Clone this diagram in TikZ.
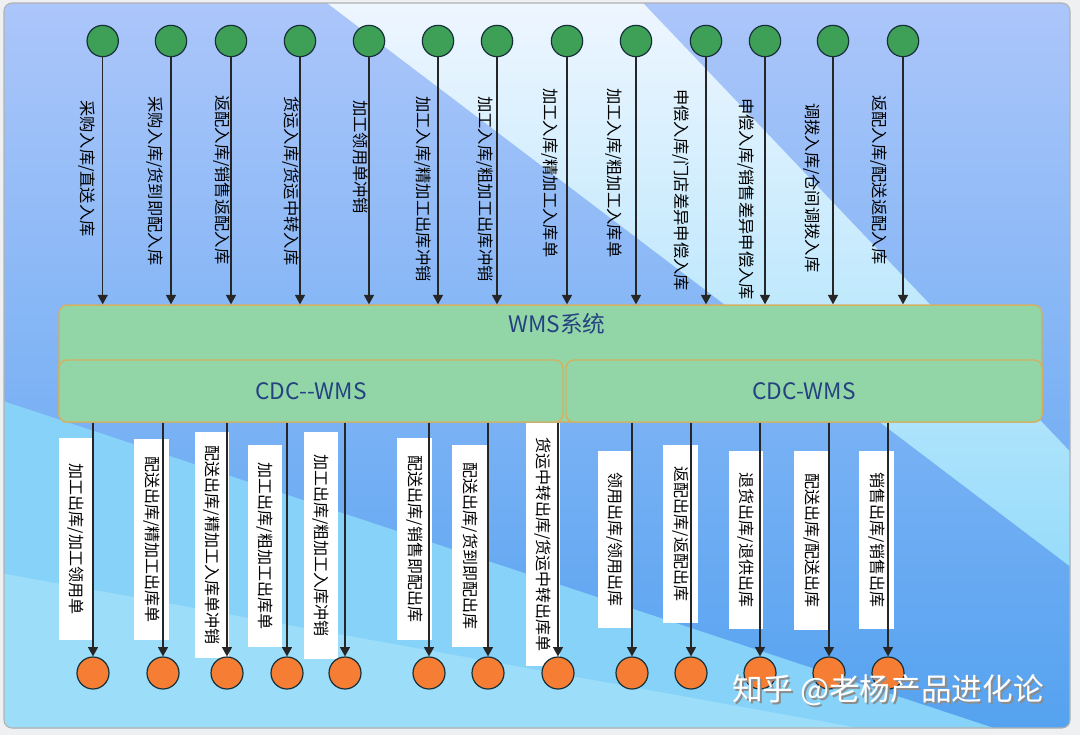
\documentclass[tikz,border=0pt]{standalone}
\usepackage{fontspec}
\setmainfont{Noto Sans CJK SC}
\usetikzlibrary{arrows.meta,positioning,shapes.geometric}
\definecolor{pagegray}{RGB}{238,240,242}
\definecolor{bgtop}{RGB}{172,198,250}
\definecolor{bgmid}{RGB}{112,174,244}
\definecolor{bgdeep}{RGB}{84,162,240}
\definecolor{bandtop}{RGB}{238,246,255}
\definecolor{bandlow}{RGB}{150,220,250}
\definecolor{lowcyan}{RGB}{134,210,248}
\definecolor{lowpale}{RGB}{156,222,250}
\definecolor{sysfill}{RGB}{146,214,168}
\definecolor{sysedge}{RGB}{212,176,96}
\definecolor{systext}{RGB}{36,66,128}
\definecolor{ingreen}{RGB}{62,160,86}
\definecolor{outorange}{RGB}{245,126,52}
\definecolor{ringdark}{RGB}{22,48,58}
\tikzset{
sysbox/.style={draw=sysedge,fill=sysfill,line width=1.1pt,rounded corners=6pt,inner sep=0pt},
systitle/.style={text=systext,font=\fontsize{17}{20}\selectfont},
inport/.style={circle,draw=ringdark,fill=ingreen,line width=0.9pt,minimum size=23.5pt,inner sep=0pt},
outport/.style={circle,draw=ringdark,fill=outorange,line width=0.9pt,minimum size=24pt,inner sep=0pt},
inlabel/.style={rotate=-90,anchor=west,inner sep=0pt,font=\fontsize{12.2}{14}\selectfont},
outlabel/.style={rotate=-90,fill=white,inner sep=0pt,minimum height=26pt,font=\fontsize{12}{14}\selectfont},
arrow/.style={-{Triangle[length=7pt,width=7.5pt]},line width=0.9pt,draw=black!85}
}
\begin{document}
\begin{tikzpicture}[x=0.75pt,y=-0.75pt]
\useasboundingbox (0,0) rectangle (1080,735);
\fill[pagegray] (0,0) rectangle (1080,735);

% background panel
\begin{scope}
\clip[rounded corners=6pt] (4,3) rectangle (1070,728);
\shade[top color=bgtop,middle color=bgmid,bottom color=bgdeep] (0,0) rectangle (1080,735);
\shade[top color=bandtop,bottom color=bandlow] (327,3) -- (643,3) -- (1080,462) -- (1080,574) -- cycle;
\fill[lowcyan] (0,400) -- (1000,730) -- (1080,760) -- (0,760) -- cycle;
\fill[lowpale] (0,573) -- (870,730) -- (0,760) -- cycle;
\end{scope}
\draw[black!30,line width=0.8pt,rounded corners=6pt] (4,3) rectangle (1070,728);

% system boxes
\node[sysbox,minimum width=737pt,minimum height=87.7pt] (wms) at (550.5,363.5) {};
\node[systitle] (wmstitle) at (557,324) {WMS系统};
\node[sysbox,minimum width=378pt,minimum height=46.5pt] (cdca) at (311,391) {};
\node[sysbox,minimum width=357pt,minimum height=46.5pt] (cdcb) at (804,391) {};
\node[systitle] at (cdca) {CDC-{}-WMS};
\node[systitle] at (cdcb) {CDC-WMS};

% inbound sources
\node[inport] (in1) at (102.7,41) {};
\node[inport] (in2) at (171,41) {};
\node[inport] (in3) at (231,41) {};
\node[inport] (in4) at (300,41) {};
\node[inport] (in5) at (369,41) {};
\node[inport] (in6) at (438,41) {};
\node[inport] (in7) at (497,41) {};
\node[inport] (in8) at (567,41) {};
\node[inport] (in9) at (636,41) {};
\node[inport] (in10) at (706,41) {};
\node[inport] (in11) at (765,41) {};
\node[inport] (in12) at (833,41) {};
\node[inport] (in13) at (903,41) {};

\node[inlabel] (lin1) at (87,100) {采购入库/直送入库};
\node[inlabel] (lin2) at (155,96) {采购入库/货到即配入库};
\node[inlabel] (lin3) at (222,95) {返配入库/销售返配入库};
\node[inlabel] (lin4) at (291,96) {货运入库/货运中转入库};
\node[inlabel] (lin5) at (361,100) {加工领用单冲销};
\node[inlabel] (lin6) at (423,96) {加工入库/精加工出库冲销};
\node[inlabel] (lin7) at (485,96) {加工入库/粗加工出库冲销};
\node[inlabel] (lin8) at (550,88) {加工入库/精加工入库单};
\node[inlabel] (lin9) at (614,88) {加工入库/粗加工入库单};
\node[inlabel] (lin10) at (681,89) {申偿入库/门店差异申偿入库};
\node[inlabel] (lin11) at (746,98) {申偿入库/销售差异申偿入库};
\node[inlabel] (lin12) at (812,103) {调拨入库/仓间调拨入库};
\node[inlabel] (lin13) at (879,95) {返配入库/配送返配入库};

% outbound labels
\node[outlabel,minimum width=151pt] (lout1) at (76,539) {加工出库/加工领用单};
\node[outlabel,minimum width=151pt] (lout2) at (151.5,539.5) {配送出库/精加工出库单};
\node[outlabel,minimum width=170pt] (lout3) at (212,545) {配送出库/精加工入库单冲销};
\node[outlabel,minimum width=151pt] (lout4) at (265,546) {加工出库/粗加工出库单};
\node[outlabel,minimum width=170pt] (lout5) at (321,545.5) {加工出库/粗加工入库冲销};
\node[outlabel,minimum width=151pt] (lout6) at (414.5,539) {配送出库/销售即配出库};
\node[outlabel,minimum width=151pt] (lout7) at (469.5,546) {配送出库/货到即配出库};
\node[outlabel,minimum width=182pt] (lout8) at (543,544.5) {货运中转出库/货运中转出库单};
\node[outlabel,minimum width=133pt] (lout9) at (615,539.5) {领用出库/领用出库};
\node[outlabel,minimum width=133pt] (lout10) at (680.5,534) {返配出库/返配出库};
\node[outlabel,minimum width=133pt] (lout11) at (746,540) {退货出库/退供出库};
\node[outlabel,minimum width=134pt] (lout12) at (811.5,540.5) {配送出库/配送出库};
\node[outlabel,minimum width=133pt] (lout13) at (876.5,540) {销售出库/销售出库};

% outbound targets
\node[outport] (out1) at (93,673) {};
\node[outport] (out2) at (163,673) {};
\node[outport] (out3) at (227,673) {};
\node[outport] (out4) at (287,673) {};
\node[outport] (out5) at (345,673) {};
\node[outport] (out6) at (429,673) {};
\node[outport] (out7) at (488,673) {};
\node[outport] (out8) at (558,673) {};
\node[outport] (out9) at (632,673) {};
\node[outport] (out10) at (691,673) {};
\node[outport] (out11) at (760,673) {};
\node[outport] (out12) at (829,673) {};
\node[outport] (out13) at (888,673) {};

% connectors
\draw[arrow] (in1) -- (in1 |- wms.north);
\draw[arrow] (in2) -- (in2 |- wms.north);
\draw[arrow] (in3) -- (in3 |- wms.north);
\draw[arrow] (in4) -- (in4 |- wms.north);
\draw[arrow] (in5) -- (in5 |- wms.north);
\draw[arrow] (in6) -- (in6 |- wms.north);
\draw[arrow] (in7) -- (in7 |- wms.north);
\draw[arrow] (in8) -- (in8 |- wms.north);
\draw[arrow] (in9) -- (in9 |- wms.north);
\draw[arrow] (in10) -- (in10 |- wms.north);
\draw[arrow] (in11) -- (in11 |- wms.north);
\draw[arrow] (in12) -- (in12 |- wms.north);
\draw[arrow] (in13) -- (in13 |- wms.north);

\draw[arrow] (out1 |- cdca.south) -- (out1);
\draw[arrow] (out2 |- cdca.south) -- (out2);
\draw[arrow] (out3 |- cdca.south) -- (out3);
\draw[arrow] (out4 |- cdca.south) -- (out4);
\draw[arrow] (out5 |- cdca.south) -- (out5);
\draw[arrow] (out6 |- cdca.south) -- (out6);
\draw[arrow] (out7 |- cdca.south) -- (out7);
\draw[arrow] (out8 |- cdca.south) -- (out8);
\draw[arrow] (out9 |- cdcb.south) -- (out9);
\draw[arrow] (out10 |- cdcb.south) -- (out10);
\draw[arrow] (out11 |- cdcb.south) -- (out11);
\draw[arrow] (out12 |- cdcb.south) -- (out12);
\draw[arrow] (out13 |- cdcb.south) -- (out13);

% watermark
\node[text=black!45,font=\fontsize{23}{26}\selectfont] (markshadow) at (890,692) {知乎 @老杨产品进化论};
\node[text=white,font=\fontsize{23}{26}\selectfont] (mark) at (888,690) {知乎 @老杨产品进化论};
\end{tikzpicture}
\end{document}
